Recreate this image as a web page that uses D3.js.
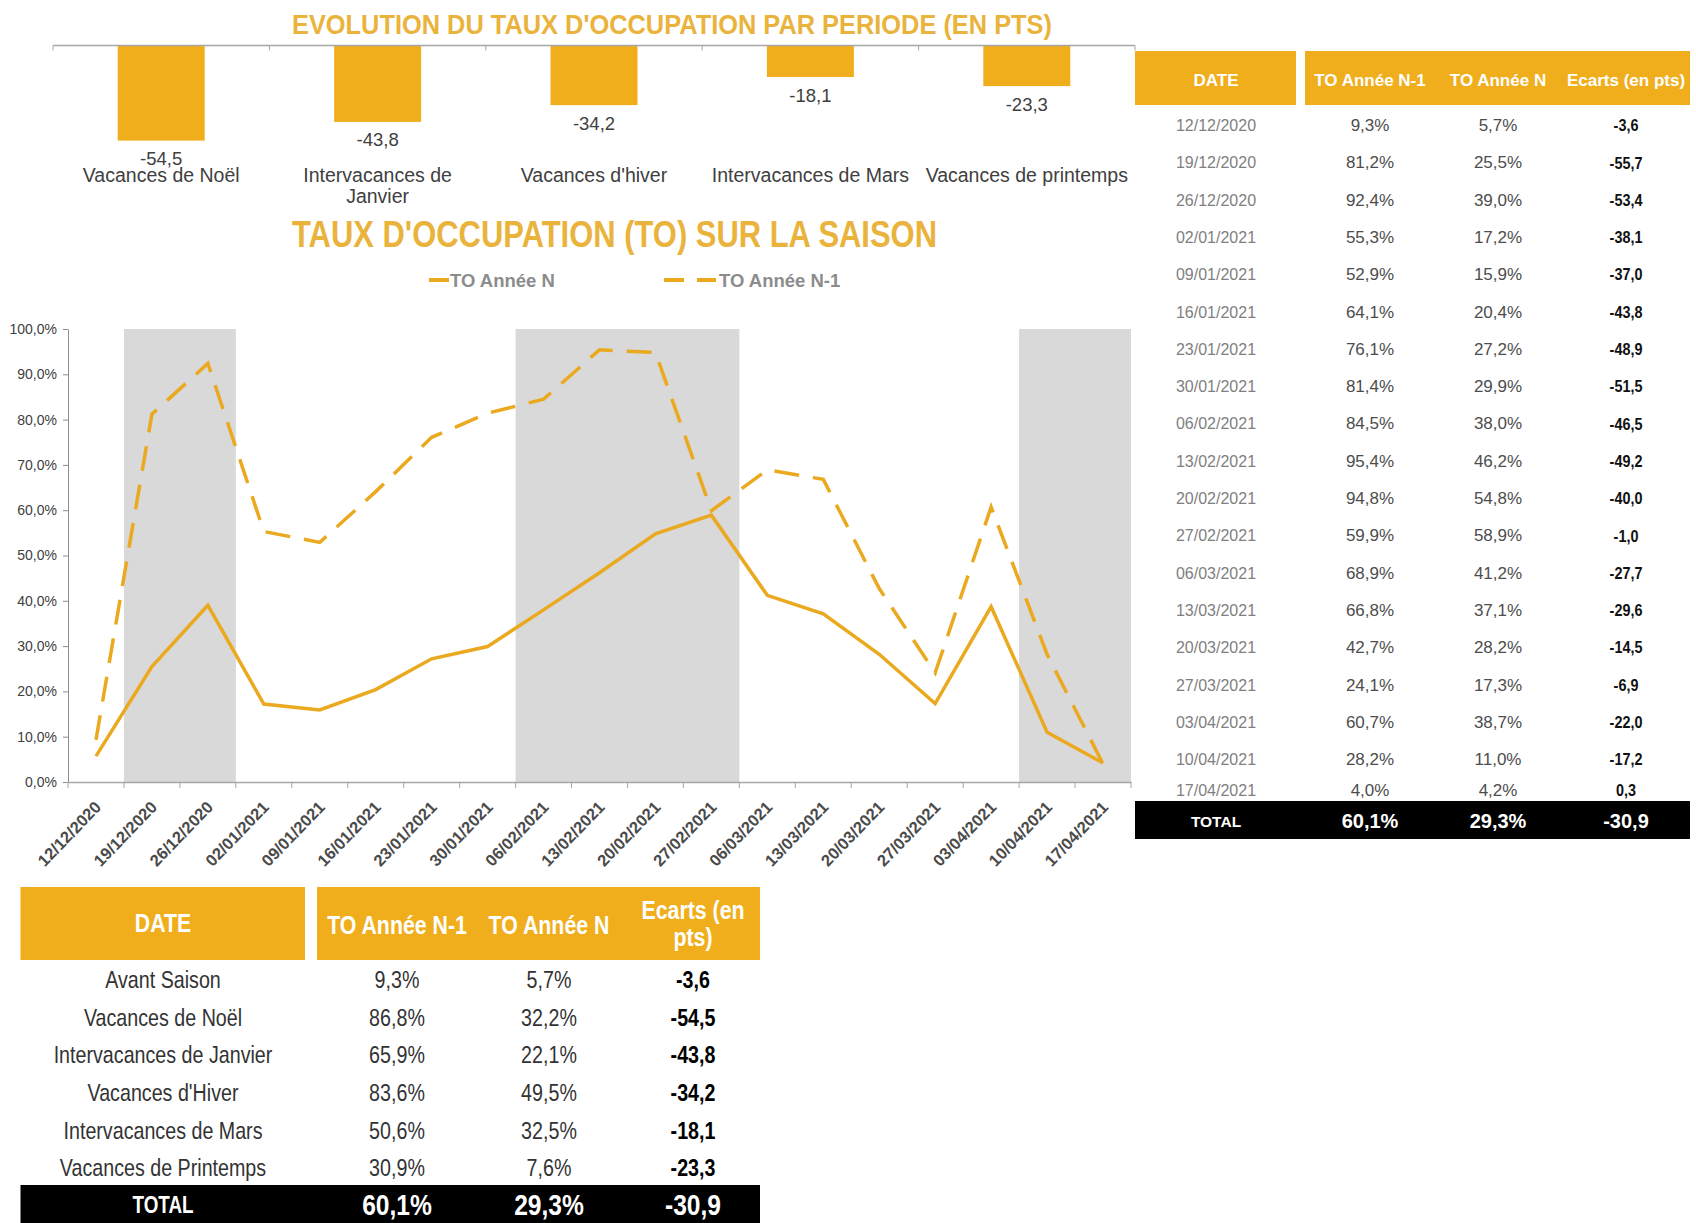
<!DOCTYPE html>
<html>
<head>
<meta charset="utf-8">
<script src="https://cdn.jsdelivr.net/npm/d3@7"></script>
<style>
  body { margin: 0; background: #fff; }
  svg { display: block; }
</style>
</head>
<body>
<div id="chart"></div>
<script>
// Ecarts par periode (bar chart du haut)
const periodes = ["Vacances de Noël", "Intervacances de Janvier", "Vacances d'hiver", "Intervacances de Mars", "Vacances de printemps"];
const ecartsPeriode = [-54.5, -43.8, -34.2, -18.1, -23.3];

// Taux d'occupation semaine par semaine
const dates = ["12/12/2020", "19/12/2020", "26/12/2020", "02/01/2021", "09/01/2021", "16/01/2021", "23/01/2021",
  "30/01/2021", "06/02/2021", "13/02/2021", "20/02/2021", "27/02/2021", "06/03/2021", "13/03/2021",
  "20/03/2021", "27/03/2021", "03/04/2021", "10/04/2021", "17/04/2021"];
const toN1 = [9.3, 81.2, 92.4, 55.3, 52.9, 64.1, 76.1, 81.4, 84.5, 95.4, 94.8, 59.9, 68.9, 66.8, 42.7, 24.1, 60.7, 28.2, 4.0];
const toN = [5.7, 25.5, 39.0, 17.2, 15.9, 20.4, 27.2, 29.9, 38.0, 46.2, 54.8, 58.9, 41.2, 37.1, 28.2, 17.3, 38.7, 11.0, 4.2];
const ecarts = [-3.6, -55.7, -53.4, -38.1, -37.0, -43.8, -48.9, -51.5, -46.5, -49.2, -40.0, -1.0, -27.7, -29.6, -14.5, -6.9, -22.0, -17.2, 0.3];
const seriesNames = ["TO Année N", "TO Année N-1"];

// Semaines de vacances (zones grises)
const vacances = [["19/12/2020", "26/12/2020"], ["06/02/2021", "27/02/2021"], ["10/04/2021", "17/04/2021"]];
const yTicks = [0, 10, 20, 30, 40, 50, 60, 70, 80, 90, 100];

// Tableau par periode
const periodesTable = ["Avant Saison", "Vacances de Noël", "Intervacances de Janvier", "Vacances d'Hiver", "Intervacances de Mars", "Vacances de Printemps"];
const toN1Periode = [9.3, 86.8, 65.9, 83.6, 50.6, 30.9];
const toNPeriode = [5.7, 32.2, 22.1, 49.5, 32.5, 7.6];
const ecartsTable = [-3.6, -54.5, -43.8, -34.2, -18.1, -23.3];

// Totaux
const totalN1 = 60.1;
const totalN = 29.3;
const totalEcart = -30.9;

const svgWidth = 1696;
const svgHeight = 1223;

const orange = "#F0AE1C";
const lineColor = "#EAA91F";
const titleColor = "#E9B33C";
const sans = "'Liberation Sans', Arial, sans-serif";
// Arial Narrow look: Liberation Sans squeezed horizontally
const narrowScale = 0.82;

// French number format (comma decimals, plain hyphen)
const fr = d3.formatLocale({ decimal: ",", thousands: " ", grouping: [3], currency: ["", " €"], minus: "-" });
const fmt1 = fr.format(".1f");
const pct = v => fmt1(v) + "%";

const svg = d3.select("#chart")
  .append("svg")
  .attr("width", svgWidth)
  .attr("height", svgHeight)
  .style("background", "#fff");

// ---------- Bar chart: evolution par periode ----------
svg.append("text")
  .attr("x", 292)
  .attr("y", 34)
  .attr("textLength", 760)
  .attr("lengthAdjust", "spacingAndGlyphs")
  .style("font", "bold 27px " + sans)
  .style("fill", titleColor)
  .text("EVOLUTION DU TAUX D'OCCUPATION PAR PERIODE (EN PTS)");

const barX = d3.scaleBand().domain(periodes).range([53, 1135]);
const barY = d3.scaleLinear().domain([-60, 0]).range([150.2, 45.4]);
const barW = 87;

const bars = svg.append("g");

bars.selectAll("rect")
  .data(ecartsPeriode)
  .enter()
  .append("rect")
  .attr("x", (d, i) => barX(periodes[i]) + (barX.bandwidth() - barW) / 2)
  .attr("y", barY(0))
  .attr("width", barW)
  .attr("height", d => barY(d) - barY(0))
  .attr("fill", orange);

// axis line with ticks at category boundaries
bars.append("line")
  .attr("x1", barX.range()[0]).attr("x2", barX.range()[1])
  .attr("y1", barY(0)).attr("y2", barY(0))
  .attr("stroke", "#a6a6a6").attr("stroke-width", 1.5);

bars.selectAll(".btick")
  .data(periodes.concat(["end"]))
  .enter()
  .append("line")
  .attr("class", "btick")
  .attr("x1", d => d === "end" ? barX.range()[1] : barX(d))
  .attr("x2", d => d === "end" ? barX.range()[1] : barX(d))
  .attr("y1", barY(0)).attr("y2", barY(0) + 5)
  .attr("stroke", "#a6a6a6");

bars.selectAll(".bval")
  .data(ecartsPeriode)
  .enter()
  .append("text")
  .attr("class", "bval")
  .attr("x", (d, i) => barX(periodes[i]) + barX.bandwidth() / 2)
  .attr("y", d => barY(d) + 18)
  .attr("text-anchor", "middle")
  .attr("dominant-baseline", "central")
  .style("font", "18.5px " + sans)
  .style("fill", "#404040")
  .text(d => fmt1(d));

const catLabels = bars.selectAll(".bcat")
  .data(periodes)
  .enter()
  .append("text")
  .attr("class", "bcat")
  .attr("text-anchor", "middle")
  .style("font", "19.5px " + sans)
  .style("fill", "#404040");

// wrap category labels that are wider than the band
catLabels.each(function(d) {
  const el = d3.select(this);
  const cx = barX(d) + barX.bandwidth() / 2;
  const words = d.split(" ");
  let lines = [d];
  el.text(d);
  if (this.getComputedTextLength() > barX.bandwidth() - 8) {
    lines = [words.slice(0, -1).join(" "), words[words.length - 1]];
  }
  el.text(null);
  lines.forEach((l, k) => {
    el.append("tspan").attr("x", cx).attr("y", 182 + k * 21).text(l);
  });
});

// ---------- Line chart: taux d'occupation sur la saison ----------
svg.append("text")
  .attr("x", 292)
  .attr("y", 247)
  .attr("textLength", 645)
  .attr("lengthAdjust", "spacingAndGlyphs")
  .style("font", "bold 36px " + sans)
  .style("fill", titleColor)
  .text("TAUX D'OCCUPATION (TO) SUR LA SAISON");

// legend
const legend = svg.append("g").style("font", "bold 18.5px " + sans).style("fill", "#8c8c8c");
legend.append("line").attr("x1", 429).attr("x2", 449).attr("y1", 280).attr("y2", 280)
  .attr("stroke", lineColor).attr("stroke-width", 4);
legend.append("text").attr("x", 450).attr("y", 280).attr("dominant-baseline", "central").text(seriesNames[0]);
legend.append("line").attr("x1", 664).attr("x2", 716).attr("y1", 280).attr("y2", 280)
  .attr("stroke", lineColor).attr("stroke-width", 4).attr("stroke-dasharray", "20,13");
legend.append("text").attr("x", 719).attr("y", 280).attr("dominant-baseline", "central").text(seriesNames[1]);

const x = d3.scaleBand().domain(dates).range([68, 1131]);
const y = d3.scaleLinear().domain([0, 100]).range([782, 329]);
const bw = x.bandwidth();

const chart = svg.append("g");

chart.selectAll(".vac")
  .data(vacances)
  .enter()
  .append("rect")
  .attr("class", "vac")
  .attr("x", d => x(d[0]))
  .attr("width", d => x(d[1]) + bw - x(d[0]))
  .attr("y", y(100))
  .attr("height", y(0) - y(100))
  .attr("fill", "#d9d9d9");

// y axis
const leftAxis = d3.axisLeft(y).tickValues(yTicks).tickFormat(pct).tickSize(5).tickSizeOuter(0);
const yAxisG = chart.append("g")
  .attr("transform", "translate(" + x.range()[0] + ",0)")
  .call(leftAxis);
yAxisG.selectAll("path, line").attr("stroke", "#8c8c8c");
yAxisG.selectAll("text").style("font", "14px " + sans).style("fill", "#404040").attr("x", -11);

// x axis: line, boundary ticks, rotated labels
const bottomAxis = d3.axisBottom(x).tickSize(0).tickSizeOuter(0);
const xAxisG = chart.append("g")
  .attr("transform", "translate(0," + y(0) + ")")
  .call(bottomAxis);
xAxisG.select(".domain").attr("stroke", "#a6a6a6").attr("stroke-width", 1.5);
xAxisG.selectAll("text")
  .attr("x", 0).attr("y", 0).attr("dy", "0.35em")
  .attr("text-anchor", "end")
  .attr("transform", "translate(2,22) rotate(-46)")
  .style("font", "bold 16.5px " + sans)
  .style("fill", "#4a4a4a");

chart.selectAll(".xtick")
  .data(dates.concat(["end"]))
  .enter()
  .append("line")
  .attr("class", "xtick")
  .attr("x1", d => d === "end" ? x.range()[1] : x(d))
  .attr("x2", d => d === "end" ? x.range()[1] : x(d))
  .attr("y1", y(0)).attr("y2", y(0) + 6)
  .attr("stroke", "#a6a6a6");

const line = d3.line()
  .x((d, i) => x(dates[i]) + bw / 2)
  .y(d => y(d));

chart.append("path")
  .datum(toN1)
  .attr("d", line)
  .attr("fill", "none")
  .attr("stroke", lineColor)
  .attr("stroke-width", 3.5)
  .attr("stroke-dasharray", "25,14");

chart.append("path")
  .datum(toN)
  .attr("d", line)
  .attr("fill", "none")
  .attr("stroke", lineColor)
  .attr("stroke-width", 3.5);

// ---------- Right table: par semaine ----------
const rt = svg.append("g");
const rCol = [1216, 1370, 1498, 1626];
const rowY = d3.scaleLinear().domain([0, 1]).range([125.5, 162.8]);
const rRowY = i => i === dates.length - 1 ? 790 : rowY(i);

rt.append("rect").attr("x", 1135).attr("y", 51).attr("width", 161).attr("height", 54).attr("fill", orange);
rt.append("rect").attr("x", 1305).attr("y", 51).attr("width", 385).attr("height", 54).attr("fill", orange);

rt.selectAll(".rh")
  .data(["DATE", "TO Année N-1", "TO Année N", "Ecarts (en pts)"])
  .enter()
  .append("text")
  .attr("class", "rh")
  .attr("x", (d, i) => rCol[i])
  .attr("y", 80)
  .attr("text-anchor", "middle")
  .attr("dominant-baseline", "central")
  .style("font", "bold 17px " + sans)
  .style("fill", "#fff")
  .text(d => d);

const rRows = rt.selectAll(".rrow")
  .data(dates)
  .enter()
  .append("g")
  .attr("class", "rrow")
  .attr("transform", (d, i) => "translate(0," + rRowY(i) + ")");

rRows.append("text").attr("x", rCol[0]).attr("text-anchor", "middle").attr("dominant-baseline", "central")
  .style("font", "16px " + sans).style("fill", "#7f7f7f").text(d => d);
rRows.append("text").attr("x", rCol[1]).attr("text-anchor", "middle").attr("dominant-baseline", "central")
  .style("font", "17px " + sans).style("fill", "#4d4d4d").text((d, i) => pct(toN1[i]));
rRows.append("text").attr("x", rCol[2]).attr("text-anchor", "middle").attr("dominant-baseline", "central")
  .style("font", "17px " + sans).style("fill", "#4d4d4d").text((d, i) => pct(toN[i]));
rRows.append("text").attr("text-anchor", "middle").attr("dominant-baseline", "central")
  .attr("transform", "translate(" + rCol[3] + ",0) scale(0.9,1)")
  .style("font", "bold 16px " + sans).style("fill", "#111").text((d, i) => fmt1(ecarts[i]));

rt.append("rect").attr("x", 1135).attr("y", 801).attr("width", 555).attr("height", 38).attr("fill", "#000");
rt.selectAll(".rtot")
  .data(["TOTAL", pct(totalN1), pct(totalN), fmt1(totalEcart)])
  .enter()
  .append("text")
  .attr("class", "rtot")
  .attr("x", (d, i) => rCol[i])
  .attr("y", 821)
  .attr("text-anchor", "middle")
  .attr("dominant-baseline", "central")
  .style("font", (d, i) => i === 0 ? "bold 15.5px " + sans : "bold 20px " + sans)
  .style("fill", "#fff")
  .text(d => d);

// ---------- Bottom table: par periode ----------
const bt = svg.append("g");
const bCol = [163, 397, 549, 693];
const squeeze = (cx, cy) => "translate(" + cx + "," + cy + ") scale(" + narrowScale + ",1)";

bt.append("rect").attr("x", 20.5).attr("y", 887).attr("width", 284.5).attr("height", 73).attr("fill", orange);
bt.append("rect").attr("x", 317).attr("y", 887).attr("width", 443).attr("height", 73).attr("fill", orange);

const bHead = bt.append("g").style("font", "bold 26px " + sans).style("fill", "#fff").attr("text-anchor", "middle");
bHead.append("text").attr("transform", squeeze(bCol[0], 923)).attr("dominant-baseline", "central").text("DATE");
bHead.append("text").attr("transform", squeeze(bCol[1], 925)).attr("dominant-baseline", "central").text("TO Année N-1");
bHead.append("text").attr("transform", squeeze(bCol[2], 925)).attr("dominant-baseline", "central").text("TO Année N");
bHead.append("text").attr("transform", squeeze(bCol[3], 910)).attr("dominant-baseline", "central").text("Ecarts (en");
bHead.append("text").attr("transform", squeeze(bCol[3], 937)).attr("dominant-baseline", "central").text("pts)");

const bRowY = d3.scaleLinear().domain([0, 1]).range([980, 1017.6]);

const bRows = bt.selectAll(".brow")
  .data(periodesTable)
  .enter()
  .append("g")
  .attr("class", "brow")
  .attr("transform", (d, i) => "translate(0," + bRowY(i) + ")")
  .style("font", "24px " + sans)
  .style("fill", "#333");

bRows.append("text").attr("transform", squeeze(bCol[0], 0))
  .attr("text-anchor", "middle").attr("dominant-baseline", "central").text(d => d);
bRows.append("text").attr("transform", squeeze(bCol[1], 0))
  .attr("text-anchor", "middle").attr("dominant-baseline", "central").text((d, i) => pct(toN1Periode[i]));
bRows.append("text").attr("transform", squeeze(bCol[2], 0))
  .attr("text-anchor", "middle").attr("dominant-baseline", "central").text((d, i) => pct(toNPeriode[i]));
bRows.append("text").attr("transform", squeeze(bCol[3], 0))
  .attr("text-anchor", "middle").attr("dominant-baseline", "central")
  .style("font-weight", "bold").style("fill", "#000").text((d, i) => fmt1(ecartsTable[i]));

bt.append("rect").attr("x", 20.5).attr("y", 1185).attr("width", 739.5).attr("height", 38).attr("fill", "#000");
bt.selectAll(".btot")
  .data(["TOTAL", pct(totalN1), pct(totalN), fmt1(totalEcart)])
  .enter()
  .append("text")
  .attr("class", "btot")
  .attr("transform", (d, i) => squeeze(bCol[i], 1205))
  .attr("text-anchor", "middle")
  .attr("dominant-baseline", "central")
  .style("font", (d, i) => i === 0 ? "bold 23px " + sans : "bold 30px " + sans)
  .style("fill", "#fff")
  .text(d => d);
</script>
</body>
</html>
